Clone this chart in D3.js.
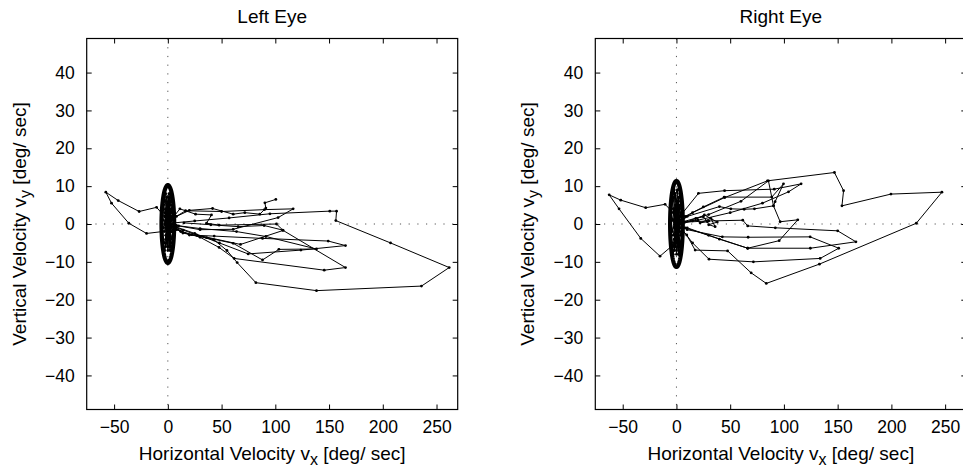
<!DOCTYPE html>
<html><head><meta charset="utf-8">
<script src="https://cdn.jsdelivr.net/npm/d3@7"></script>
<style>
html,body{margin:0;padding:0;background:#fff;overflow:hidden}
svg{display:block;font-family:"Liberation Sans",Arial,Helvetica,sans-serif}
</style></head><body>
<svg id="chart" width="963" height="468"></svg>
<script>
// ---------- data ----------
const titles = ["Left Eye", "Right Eye"];
const xTicks = [-50, 0, 50, 100, 150, 200, 250];
const yTicks = [-40, -30, -20, -10, 0, 10, 20, 30, 40];
const xDomain = [-75.5, 269.7];
const yDomain = [-49, 49];

// Left eye velocity traces [vx, vy] in deg/sec
const leftTrace1 = [[0,0],[8,-1.5],[22,-2.8],[43,-4.2],[55,-7],[64.5,-10.2],[81.9,-15.5],[138.3,-17.6],[236,-16.4],[261.8,-11.5],[207.2,-5],[156.3,0.9],[157,3.4],[150.7,3.4],[95,2.7],[57,1.6],[25,0.8],[6,0.3]];
const leftTrace2 = [[0,0],[12,-2],[30,-3.5],[47.7,-6.2],[61.7,-9.1],[145.5,-12.2],[165.3,-11.5],[106.7,-1.6],[89.6,-0.4],[65.4,-0.7],[40,-0.2],[15,0.3]];
const leftTrace3 = [[0,0],[20,-2.9],[43.1,-3.2],[88.1,-3.8],[149.2,-4.5],[165.3,-5.7],[123.8,-6.9],[74.7,-7.9],[48,-5],[25,-2.5],[8,-0.8]];
const leftTrace4 = [[0,0],[14,-2.4],[36,-3.6],[60.8,-5.1],[88.1,-9.5],[103.3,-6.7],[138.3,-6.6],[91.2,-3.3],[63.9,-2],[30,-1.2],[8,-0.4]];
const leftTrace5 = [[0,0],[8,2],[20,3.6],[41.6,4.1],[60.8,2.6],[71.6,3.0],[85.6,2.6],[91.2,4.2],[90.3,5.6],[100.5,6.5]];
const leftTrace6 = [[2,1],[16.5,3.5],[50,3.3],[90,3.8],[116.6,4.0],[102.6,1.7],[60.8,-1.4],[30,-1.5],[10,-0.5]];
const leftTrace7 = [[0,0],[11.2,4.0],[25.8,2.6],[40.6,2.4],[36,0.2],[47.7,-0.3],[101.1,0],[107.3,-1.7],[67.6,-5.4],[26.7,-2.9],[14.3,-1.6],[3,-0.5]];
const leftTrace8 = [[0,0],[-3,2],[-10.5,4.4],[-26.7,3.3],[-46.2,6.2],[-57.7,8.4],[-52.4,5.5],[-36.3,0.2],[-19.8,-2.5],[-5,-2],[0,-1]];
const leftFixation = [[0,0],[2,5],[-3,3],[1,-4],[4,2],[-2,-6],[3,7],[-1,1],[2,-3],[-4,5],[1,6],[3,-5],[-2,2],[0,-7],[4,0],[-3,-2],[2,8],[-1,-5],[3,3],[-2,6],[1,-1],[4,-4],[-3,0],[0,4],[2,-6],[-1,3],[3,1],[-2,-3],[1,7],[0,-2]];
const leftFixation2 = [[-1,-1],[3,4],[-2,-4],[1,8],[-3,6],[2,-7],[0,5],[-4,1],[3,-2],[-1,7],[2,1],[-3,-5],[4,5],[0,-6],[-2,4],[3,-7],[1,3],[-4,-1],[2,6],[-1,-3],[4,-2],[-2,8],[0,-4],[3,2],[-3,-7],[1,0],[-1,5],[2,-5],[-2,-1],[0,2]];
const leftEllipse = [5.9, 10.25]; // semi-axes [vx, vy]

// Right eye velocity traces
const rightTrace1 = [[0,0],[9.6,-2.9],[17.4,-6.9],[47.6,-7.1],[69.5,-12.9],[83.6,-15.7],[133,-10.6],[223.2,0.2],[247,8.4],[199.6,7.9],[154,4.8],[155.5,8.8],[147,13.6],[84.7,11.4],[45,7],[15,3],[3,0.5]];
const rightTrace2 = [[0,0],[6,3],[20.5,8.1],[44.8,8.8],[91,9.2],[116,10.6],[104.3,8.5],[80,5.5],[50,3],[20,1],[6,0.5]];
const rightTrace3 = [[0,0],[8,2],[25,4.5],[44.4,7.1],[88.7,7.1],[99.6,10.6],[91.8,5.9],[90.3,4.8],[96.5,0.6],[112.9,1.1],[95.6,-4.4],[66.3,-6.4],[30,-3],[8,-1]];
const rightTrace4 = [[0,0],[8,0.5],[30,0.8],[61.7,1.0],[66.3,-0.5],[92,-1.0],[150,-1.8],[167,-4.7],[124.6,-6.4],[66.3,-6.4],[40,-4],[10,-1]];
const rightTrace5 = [[0,0],[10,-1.5],[42.7,-3.4],[66.7,-3.5],[124.4,-3.4],[151,-6.4],[133.7,-9.1],[71.6,-10],[30.3,-9.3],[15,-5],[4,-1]];
const rightTrace6 = [[0,0],[10,2],[40,4.6],[50.6,4.0],[63,3.9],[72.6,4.0],[90.3,4.8],[85.6,11.4],[60,6],[30,2.5],[5,0.5]];
const rightTrace7 = [[5,0],[18,1.5],[25,1.9],[28.8,0.6],[22,0.3],[32,1.5],[36,-0.7],[30,-0.2],[38,0.5],[26,2.4],[15,0.8],[3,0]];
const rightTrace8 = [[0,0],[-3,3],[-10.6,5.2],[-28.6,4.3],[-51.8,6.3],[-62.6,7.7],[-53.4,4.0],[-33.2,-3.8],[-15.3,-8.5],[-5,-6],[0,-2]];
const rightFixation = [[0,0],[2,6],[-3,4],[1,-5],[4,3],[-2,-7],[3,8],[-1,2],[2,-4],[-4,6],[1,9],[3,-6],[-2,3],[0,-8],[4,1],[-3,-3],[2,7],[-1,-6],[3,4],[-2,8],[1,-2],[4,-5],[-3,1],[0,5],[2,-8],[-1,3],[3,0],[-2,-4],[1,6],[0,-1]];
const rightFixation2 = [[-1,-1],[3,5],[-2,-5],[1,9],[-3,7],[2,-8],[0,6],[-4,1],[3,-2],[-1,8],[2,1],[-3,-6],[4,6],[0,-7],[-2,4],[3,-8],[1,3],[-4,-2],[2,7],[-1,-3],[4,-3],[-2,9],[0,-5],[3,2],[-3,-8],[1,0],[-1,5],[2,-6],[-2,-1],[0,3]];
const rightEllipse = [5.9, 11.35];

const leftTraces = [leftTrace1,leftTrace2,leftTrace3,leftTrace4,leftTrace5,leftTrace6,leftTrace7,leftTrace8,leftFixation,leftFixation2];
const rightTraces = [rightTrace1,rightTrace2,rightTrace3,rightTrace4,rightTrace5,rightTrace6,rightTrace7,rightTrace8,rightFixation,rightFixation2];

// ---------- drawing ----------
const svg = d3.select("#chart");
const panels = [
  {title: titles[0], traces: leftTraces, ell: leftEllipse, x0: 86.7, ylabX: 26},
  {title: titles[1], traces: rightTraces, ell: rightEllipse, x0: 595.3, ylabX: 534}
];
const boxSize = 371, boxTop = 38.5;

panels.forEach(p => {
  const x = d3.scaleLinear().domain(xDomain).range([p.x0, p.x0 + boxSize]);
  const y = d3.scaleLinear().domain(yDomain).range([boxTop + boxSize, boxTop]);
  const g = svg.append("g");

  // zero reference dotted lines
  g.append("line").attr("x1", x(0)).attr("x2", x(0)).attr("y1", boxTop).attr("y2", boxTop + boxSize)
    .attr("stroke", "#555").attr("stroke-width", 1).attr("stroke-dasharray", "1.2,7.5");
  g.append("line").attr("x1", p.x0).attr("x2", p.x0 + boxSize).attr("y1", y(0)).attr("y2", y(0))
    .attr("stroke", "#555").attr("stroke-width", 1).attr("stroke-dasharray", "1.2,7.5");

  // traces
  const line = d3.line().x(d => x(d[0])).y(d => y(d[1]));
  p.traces.forEach(t => {
    g.append("path").attr("d", line(t)).attr("fill", "none")
      .attr("stroke", "#000").attr("stroke-width", 1);
    g.selectAll(null).data(t).enter().append("circle")
      .attr("cx", d => x(d[0])).attr("cy", d => y(d[1])).attr("r", 1.4).attr("fill", "#000");
  });

  // ellipse
  const ang = d3.range(0, 361, 4).map(a => a * Math.PI / 180);
  const ellPts = ang.map(a => [p.ell[0] * Math.cos(a), p.ell[1] * Math.sin(a)]);
  g.append("path").attr("d", line(ellPts) + "Z").attr("fill", "none")
    .attr("stroke", "#000").attr("stroke-width", 4.2);

  // frame
  g.append("rect").attr("x", p.x0).attr("y", boxTop).attr("width", boxSize).attr("height", boxSize)
    .attr("fill", "none").attr("stroke", "#000").attr("stroke-width", 1.2);

  const fmt = d3.format("");
  g.append("g").attr("transform", `translate(0,${boxTop + boxSize})`)
    .call(d3.axisBottom(x).tickValues(xTicks).tickSize(-5).tickPadding(11).tickFormat(fmt));
  g.append("g").attr("transform", `translate(0,${boxTop})`)
    .call(d3.axisTop(x).tickValues(xTicks).tickSize(-5).tickFormat(""));
  g.append("g").attr("transform", `translate(${p.x0},0)`)
    .call(d3.axisLeft(y).tickValues(yTicks).tickSize(-5).tickPadding(12).tickFormat(fmt));
  g.append("g").attr("transform", `translate(${p.x0 + boxSize},0)`)
    .call(d3.axisRight(y).tickValues(yTicks).tickSize(-5).tickFormat(""));
  g.selectAll(".domain").remove();
  g.selectAll(".tick line").attr("stroke", "#000");
  g.selectAll(".tick text").attr("font-size", 17.5).attr("fill", "#000")
    .attr("font-family", '"Liberation Sans",Arial,sans-serif');

  // title
  g.append("text").attr("x", p.x0 + boxSize / 2).attr("y", 22.5).attr("text-anchor", "middle")
    .attr("font-size", 19).text(p.title);

  // x label
  const xl = g.append("text").attr("x", p.x0 + boxSize / 2).attr("y", 460).attr("text-anchor", "middle")
    .attr("font-size", 19);
  xl.append("tspan").text("Horizontal Velocity v");
  xl.append("tspan").attr("dy", 5).attr("font-size", 16).text("x");
  xl.append("tspan").attr("dy", -5).text(" [deg/ sec]");

  // y label
  const yl = g.append("text").attr("transform", `translate(${p.ylabX},${boxTop + boxSize / 2}) rotate(-90)`)
    .attr("text-anchor", "middle").attr("font-size", 19);
  yl.append("tspan").text("Vertical Velocity v");
  yl.append("tspan").attr("dy", 5).attr("font-size", 16).text("y");
  yl.append("tspan").attr("dy", -5).text(" [deg/ sec]");
});
</script>
</body></html>
